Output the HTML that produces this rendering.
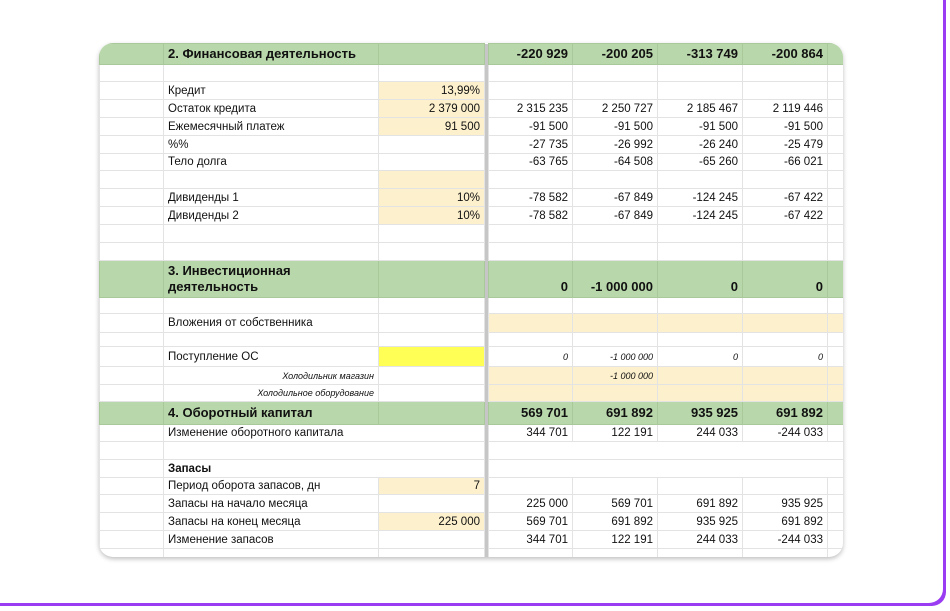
<!DOCTYPE html>
<html><head><meta charset="utf-8"><style>
html,body{margin:0;padding:0;background:#fff;width:950px;height:611px;overflow:hidden;font-family:"Liberation Sans",Arial,sans-serif;}
.frame{position:absolute;left:-20px;top:-20px;width:963px;height:623px;border-radius:14px;background:#fff;box-shadow:3px 3px 0 #9a3df2;}
.card{position:absolute;left:99px;top:43px;width:744px;height:514px;border-radius:14px;overflow:hidden;background:#fff;box-shadow:0 2px 5px rgba(0,0,0,.25);}
table{border-collapse:collapse;table-layout:fixed;width:744px;font-size:11.5px;color:#111;}
td{border:1px solid #e3e3e3;padding:0 4px;white-space:nowrap;overflow:hidden;line-height:12px;}
td.r{text-align:right;}
td.dv{background:#c6c6c6;border:none;padding:0;}
.g td{background:#b8d7aa;border-color:#a9c99b;font-weight:bold;font-size:13px;}
.g td.dv{background:#c6c6c6;}
.y{background:#fcf0cd;}
.yy{background:#ffff55;}
.it{font-style:italic;font-size:9px;text-align:right;}
.sm{font-style:italic;font-size:9px;}
td.nb{border-right:none;}
td.nl{border-left:none;}
</style></head><body>
<div class="frame"></div>
<div class="card">
<table>
<colgroup><col style="width:64px"><col style="width:215px"><col style="width:106px"><col style="width:4px"><col style="width:84px"><col style="width:85px"><col style="width:85px"><col style="width:85px"><col style="width:16px"></colgroup>
<tr class="g" style="height:21px"><td></td><td>2. Финансовая деятельность</td><td></td><td class="dv"></td><td class="r">-220 929</td><td class="r">-200 205</td><td class="r">-313 749</td><td class="r">-200 864</td><td></td></tr>
<tr style="height:17px"><td></td><td></td><td></td><td class="dv"></td><td></td><td></td><td></td><td></td><td></td></tr>
<tr style="height:18px"><td></td><td>Кредит</td><td class="r y">13,99%</td><td class="dv"></td><td></td><td></td><td></td><td></td><td></td></tr>
<tr style="height:18px"><td></td><td>Остаток кредита</td><td class="r y">2 379 000</td><td class="dv"></td><td class="r">2 315 235</td><td class="r">2 250 727</td><td class="r">2 185 467</td><td class="r">2 119 446</td><td></td></tr>
<tr style="height:18px"><td></td><td>Ежемесячный платеж</td><td class="r y">91 500</td><td class="dv"></td><td class="r">-91 500</td><td class="r">-91 500</td><td class="r">-91 500</td><td class="r">-91 500</td><td></td></tr>
<tr style="height:18px"><td></td><td>%%</td><td></td><td class="dv"></td><td class="r">-27 735</td><td class="r">-26 992</td><td class="r">-26 240</td><td class="r">-25 479</td><td></td></tr>
<tr style="height:17px"><td></td><td>Тело долга</td><td></td><td class="dv"></td><td class="r">-63 765</td><td class="r">-64 508</td><td class="r">-65 260</td><td class="r">-66 021</td><td></td></tr>
<tr style="height:18px"><td></td><td></td><td class="y"></td><td class="dv"></td><td></td><td></td><td></td><td></td><td></td></tr>
<tr style="height:18px"><td></td><td>Дивиденды 1</td><td class="r y">10%</td><td class="dv"></td><td class="r">-78 582</td><td class="r">-67 849</td><td class="r">-124 245</td><td class="r">-67 422</td><td></td></tr>
<tr style="height:18px"><td></td><td>Дивиденды 2</td><td class="r y">10%</td><td class="dv"></td><td class="r">-78 582</td><td class="r">-67 849</td><td class="r">-124 245</td><td class="r">-67 422</td><td></td></tr>
<tr style="height:18px"><td></td><td></td><td></td><td class="dv"></td><td></td><td></td><td></td><td></td><td></td></tr>
<tr style="height:18px"><td></td><td></td><td></td><td class="dv"></td><td></td><td></td><td></td><td></td><td></td></tr>
<tr class="g" style="height:37px"><td></td><td style="line-height:16px">3. Инвестиционная<br>деятельность</td><td></td><td class="dv"></td><td class="r" style="vertical-align:bottom;padding-bottom:4px">0</td><td class="r" style="vertical-align:bottom;padding-bottom:4px">-1 000 000</td><td class="r" style="vertical-align:bottom;padding-bottom:4px">0</td><td class="r" style="vertical-align:bottom;padding-bottom:4px">0</td><td></td></tr>
<tr style="height:16px"><td></td><td></td><td></td><td class="dv"></td><td></td><td></td><td></td><td></td><td></td></tr>
<tr style="height:19px"><td></td><td>Вложения от собственника</td><td></td><td class="dv"></td><td class="y"></td><td class="y"></td><td class="y"></td><td class="y"></td><td class="y"></td></tr>
<tr style="height:14px"><td></td><td></td><td></td><td class="dv"></td><td></td><td></td><td></td><td></td><td></td></tr>
<tr style="height:20px"><td></td><td>Поступление ОС</td><td class="yy"></td><td class="dv"></td><td class="r sm">0</td><td class="r sm">-1 000 000</td><td class="r sm">0</td><td class="r sm">0</td><td></td></tr>
<tr style="height:18px"><td></td><td class="it">Холодильник магазин</td><td></td><td class="dv"></td><td class="y"></td><td class="r sm y">-1 000 000</td><td class="y"></td><td class="y"></td><td class="y"></td></tr>
<tr style="height:17px"><td></td><td class="it">Холодильное оборудование</td><td></td><td class="dv"></td><td class="y"></td><td class="y"></td><td class="y"></td><td class="y"></td><td class="y"></td></tr>
<tr class="g" style="height:23px"><td></td><td>4. Оборотный капитал</td><td></td><td class="dv"></td><td class="r">569 701</td><td class="r">691 892</td><td class="r">935 925</td><td class="r">691 892</td><td></td></tr>
<tr style="height:17px"><td></td><td class="nb">Изменение оборотного капитала</td><td class="nl"></td><td class="dv"></td><td class="r">344 701</td><td class="r">122 191</td><td class="r">244 033</td><td class="r">-244 033</td><td></td></tr>
<tr style="height:18px"><td></td><td class="nb"></td><td class="nl"></td><td class="dv"></td><td class="nb"></td><td class="nl nb"></td><td class="nl nb"></td><td class="nl nb"></td><td class="nl"></td></tr>
<tr style="height:18px"><td></td><td class="nb" style="font-weight:bold">Запасы</td><td class="nl"></td><td class="dv"></td><td class="nb"></td><td class="nl nb"></td><td class="nl nb"></td><td class="nl nb"></td><td class="nl"></td></tr>
<tr style="height:17px"><td></td><td>Период оборота запасов, дн</td><td class="r y">7</td><td class="dv"></td><td></td><td></td><td></td><td></td><td></td></tr>
<tr style="height:18px"><td></td><td>Запасы на начало месяца</td><td></td><td class="dv"></td><td class="r">225 000</td><td class="r">569 701</td><td class="r">691 892</td><td class="r">935 925</td><td></td></tr>
<tr style="height:18px"><td></td><td>Запасы на конец месяца</td><td class="r y">225 000</td><td class="dv"></td><td class="r">569 701</td><td class="r">691 892</td><td class="r">935 925</td><td class="r">691 892</td><td></td></tr>
<tr style="height:18px"><td></td><td>Изменение запасов</td><td></td><td class="dv"></td><td class="r">344 701</td><td class="r">122 191</td><td class="r">244 033</td><td class="r">-244 033</td><td></td></tr>
<tr style="height:9px"><td></td><td></td><td></td><td class="dv"></td><td></td><td></td><td></td><td></td><td></td></tr>
</table>
</div>
</body></html>
